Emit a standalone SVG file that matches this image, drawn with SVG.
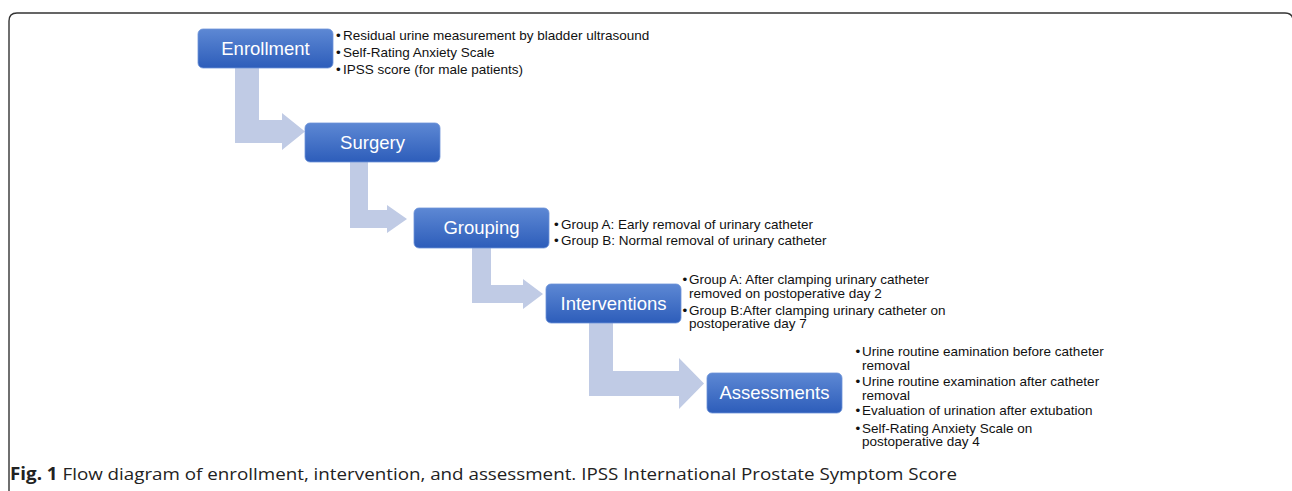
<svg xmlns="http://www.w3.org/2000/svg" width="1292" height="491" viewBox="0 0 1292 491">
<defs>
<linearGradient id="boxg" x1="0" y1="0" x2="0" y2="1">
<stop offset="0" stop-color="#5d88d4"/>
<stop offset="1" stop-color="#2d5dba"/>
</linearGradient>
<style>
.box{fill:url(#boxg);stroke:#6d93d8;stroke-width:0.8}
.lbl{font-family:"Liberation Sans",Arial,sans-serif;font-size:18.5px;fill:#ffffff;text-anchor:middle}
.bt{font-family:"Liberation Sans",Arial,sans-serif;font-size:13.5px;fill:#111111}
.arr{fill:#c0cbe5}
.cap{font-family:"Open Sans","Liberation Sans",sans-serif;font-size:17px;fill:#222222}
</style>
</defs>
<rect width="1292" height="491" fill="#ffffff"/>
<path d="M9,491 L9,21 Q9,13 17,13 L1285,13 Q1293,13 1293,21 L1293,491" fill="none" stroke="#333333" stroke-width="1.4"/>
<g id="connectors">
<path class="arr" d="M235,68 L259,68 L259,120 L282,120 L282,113 L305,131.5 L282,150 L282,143 L235,143 Z"/>
<path class="arr" d="M350,162 L368,162 L368,210 L387,210 L387,205 L407,219 L387,233 L387,228 L350,228 Z"/>
<path class="arr" d="M472,248 L491,248 L491,285 L523,285 L523,279 L543,294 L523,309 L523,303 L472,303 Z"/>
<path class="arr" d="M589,323 L613,323 L613,371 L679,371 L679,358 L704,383.5 L679,409 L679,396 L589,396 Z"/>
</g>
<g id="enrollment">
<rect class="box" x="198" y="29" width="135" height="39" rx="5"/>
<text class="lbl" x="265.5" y="55">Enrollment</text>
<text class="bt" x="336" y="40">•</text>
<text class="bt" x="343" y="40">Residual urine measurement by bladder ultrasound</text>
<text class="bt" x="336" y="57">•</text>
<text class="bt" x="343" y="57">Self-Rating Anxiety Scale</text>
<text class="bt" x="336" y="73.5">•</text>
<text class="bt" x="343" y="73.5">IPSS score (for male patients)</text>
</g>
<g id="surgery">
<rect class="box" x="305" y="123" width="135" height="39" rx="5"/>
<text class="lbl" x="372.5" y="149">Surgery</text>
</g>
<g id="grouping">
<rect class="box" x="414" y="208" width="135" height="40" rx="5"/>
<text class="lbl" x="481.5" y="234">Grouping</text>
<text class="bt" x="554" y="228.5">•</text>
<text class="bt" x="561" y="228.5">Group A: Early removal of urinary catheter</text>
<text class="bt" x="554" y="245">•</text>
<text class="bt" x="561" y="245">Group B: Normal removal of urinary catheter</text>
</g>
<g id="interventions">
<rect class="box" x="546" y="284" width="135" height="39" rx="5"/>
<text class="lbl" x="613.5" y="310">Interventions</text>
<text class="bt" x="682.5" y="284">•</text>
<text class="bt" x="689" y="284">Group A: After clamping urinary catheter</text>
<text class="bt" x="689" y="297.5">removed on postoperative day 2</text>
<text class="bt" x="682.5" y="314.5">•</text>
<text class="bt" x="689" y="314.5">Group B:After clamping urinary catheter on</text>
<text class="bt" x="689" y="327.5">postoperative day 7</text>
</g>
<g id="assessments">
<rect class="box" x="707" y="373" width="135" height="40" rx="5"/>
<text class="lbl" x="774.5" y="399">Assessments</text>
<text class="bt" x="855.5" y="356">•</text>
<text class="bt" x="862" y="356">Urine routine eamination before catheter</text>
<text class="bt" x="862" y="369.5">removal</text>
<text class="bt" x="855.5" y="385.5">•</text>
<text class="bt" x="862" y="385.5">Urine routine examination after catheter</text>
<text class="bt" x="862" y="399.5">removal</text>
<text class="bt" x="855.5" y="415">•</text>
<text class="bt" x="862" y="415">Evaluation of urination after extubation</text>
<text class="bt" x="855.5" y="432.5">•</text>
<text class="bt" x="862" y="432.5">Self-Rating Anxiety Scale on</text>
<text class="bt" x="862" y="446">postoperative day 4</text>
</g>
<text class="cap" x="10" y="480" textLength="947" lengthAdjust="spacingAndGlyphs"><tspan font-weight="bold">Fig. 1</tspan> Flow diagram of enrollment, intervention, and assessment. IPSS International Prostate Symptom Score</text>
</svg>
